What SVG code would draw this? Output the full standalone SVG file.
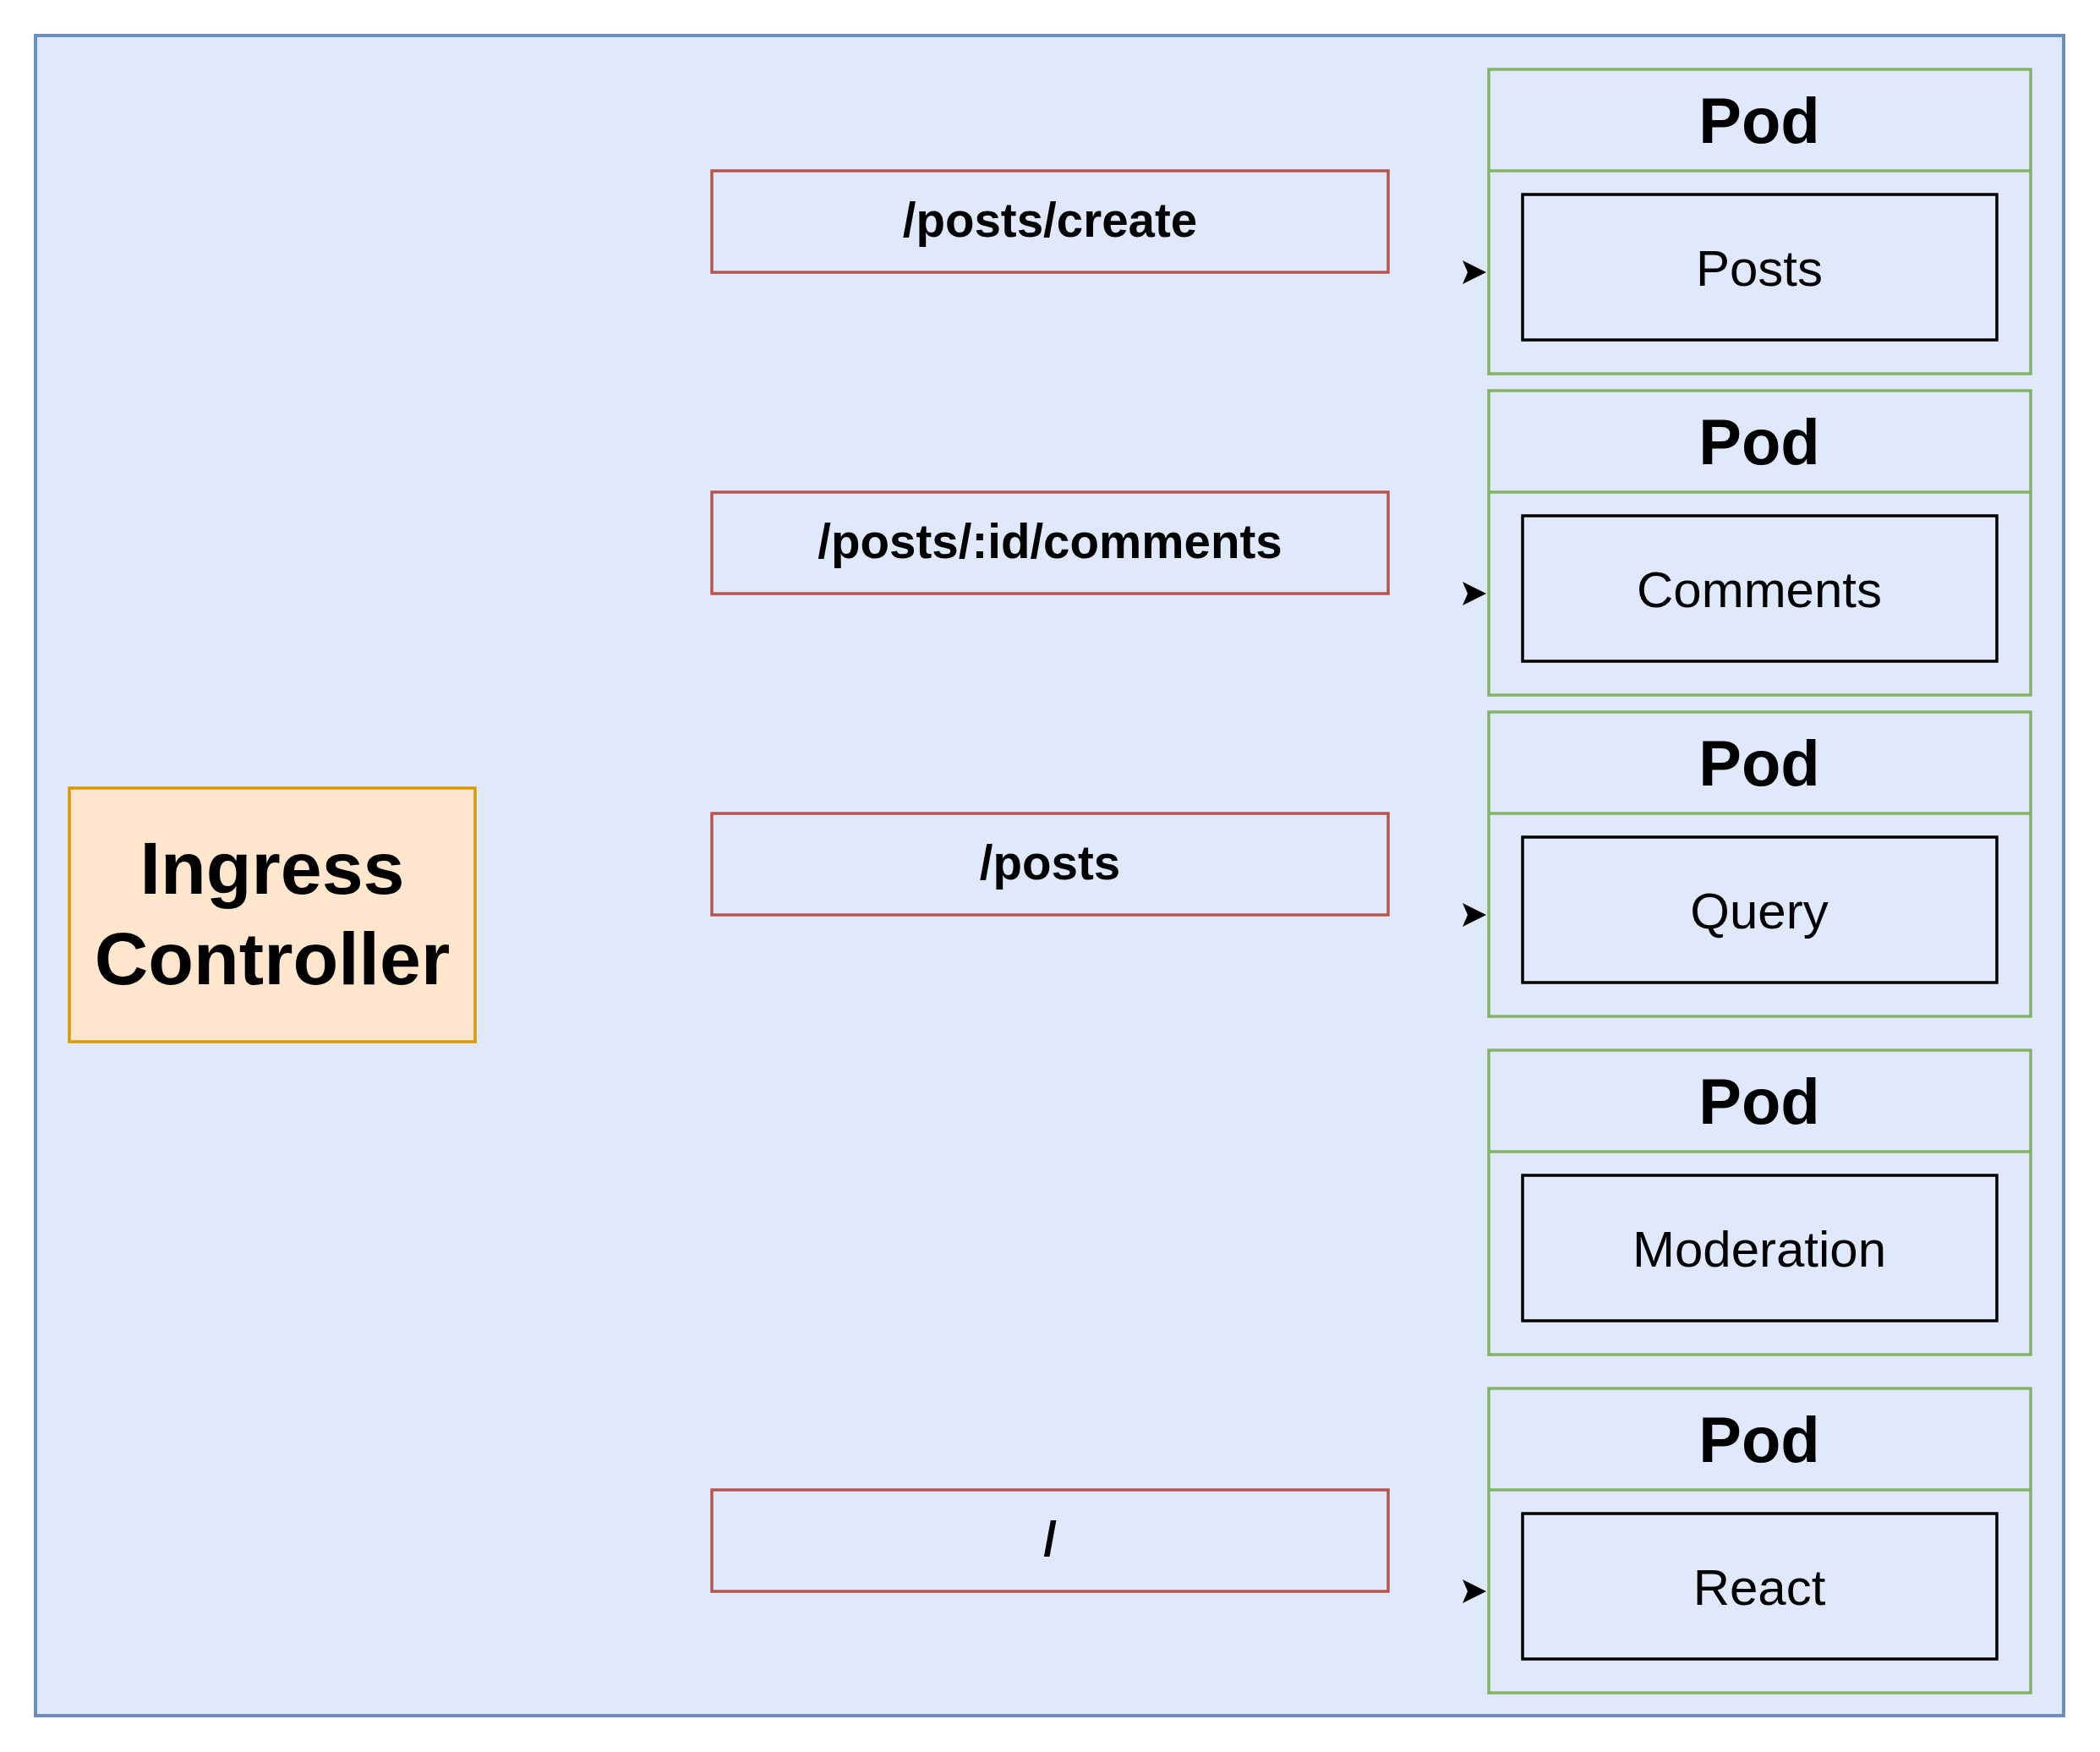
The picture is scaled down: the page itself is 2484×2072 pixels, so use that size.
<svg xmlns="http://www.w3.org/2000/svg" width="2484" height="2072" viewBox="0 0 2484 2072">
<defs>
<style>
.frame{fill:#dfe9fb;stroke:#6c8ebf;stroke-width:4}
.route{fill:#dfe9fb;stroke:#b85450;stroke-width:3.5}
.pod{fill:#dfe9fb;stroke:#82b366;stroke-width:3.5}
.svc{fill:#dfe9fb;stroke:#000;stroke-width:3.5}
.ing{fill:#ffe6cc;stroke:#d79b00;stroke-width:3.5}
text{font-family:"Liberation Sans",Arial,Helvetica,sans-serif;fill:#000;text-anchor:middle}
.pt{font-size:76px;font-weight:bold}
.rt{font-size:56.5px;font-weight:bold}
.st{font-size:60px}
.it{font-size:88px;font-weight:bold}
.edge{fill:none;stroke:#000;stroke-opacity:0;stroke-width:2}
</style>
<marker id="arr" markerUnits="userSpaceOnUse" markerWidth="32" markerHeight="32" viewBox="0 0 32 32" refX="30" refY="16" orient="auto">
<path d="M2 2 L30 16 L2 30 L8 16 Z" fill="#000" stroke="none"/>
</marker>
</defs>
<rect class="frame" x="42" y="42" width="2399" height="1987"/>
<g id="ingress">
<rect class="ing" x="82" y="932" width="480" height="300"/>
<text class="it" x="322" y="1057">Ingress</text>
<text class="it" x="322" y="1164">Controller</text>
</g>
<g id="route-posts-create">
<rect class="route" x="842" y="202" width="800" height="120"/>
<text class="rt" x="1242" y="280">/posts/create</text>
</g>
<g id="route-comments">
<rect class="route" x="842" y="582" width="800" height="120"/>
<text class="rt" x="1242" y="660">/posts/:id/comments</text>
</g>
<g id="route-posts">
<rect class="route" x="842" y="962" width="800" height="120"/>
<text class="rt" x="1242" y="1040">/posts</text>
</g>
<g id="route-root">
<rect class="route" x="842" y="1762" width="800" height="120"/>
<text class="rt" x="1242" y="1840">/</text>
</g>
<g id="pod-posts">
<rect class="pod" x="1761" y="82" width="641" height="360"/>
<line class="pod" x1="1761" y1="202" x2="2402" y2="202"/>
<text class="pt" x="2081" y="169">Pod</text>
<rect class="svc" x="1801" y="230" width="561" height="172"/>
<text class="st" x="2081" y="338">Posts</text>
</g>
<g id="pod-comments">
<rect class="pod" x="1761" y="462" width="641" height="360"/>
<line class="pod" x1="1761" y1="582" x2="2402" y2="582"/>
<text class="pt" x="2081" y="549">Pod</text>
<rect class="svc" x="1801" y="610" width="561" height="172"/>
<text class="st" x="2081" y="718">Comments</text>
</g>
<g id="pod-query">
<rect class="pod" x="1761" y="842" width="641" height="360"/>
<line class="pod" x1="1761" y1="962" x2="2402" y2="962"/>
<text class="pt" x="2081" y="929">Pod</text>
<rect class="svc" x="1801" y="990" width="561" height="172"/>
<text class="st" x="2081" y="1098">Query</text>
</g>
<g id="pod-moderation">
<rect class="pod" x="1761" y="1242" width="641" height="360"/>
<line class="pod" x1="1761" y1="1362" x2="2402" y2="1362"/>
<text class="pt" x="2081" y="1329">Pod</text>
<rect class="svc" x="1801" y="1390" width="561" height="172"/>
<text class="st" x="2081" y="1498">Moderation</text>
</g>
<g id="pod-react">
<rect class="pod" x="1761" y="1642" width="641" height="360"/>
<line class="pod" x1="1761" y1="1762" x2="2402" y2="1762"/>
<text class="pt" x="2081" y="1729">Pod</text>
<rect class="svc" x="1801" y="1790" width="561" height="172"/>
<text class="st" x="2081" y="1898">React</text>
</g>
<g id="connectors">
<path class="edge" d="M1700 322 L1758 322" marker-end="url(#arr)"/>
<path class="edge" d="M1700 702 L1758 702" marker-end="url(#arr)"/>
<path class="edge" d="M1700 1082 L1758 1082" marker-end="url(#arr)"/>
<path class="edge" d="M1700 1882 L1758 1882" marker-end="url(#arr)"/>
</g>
</svg>
